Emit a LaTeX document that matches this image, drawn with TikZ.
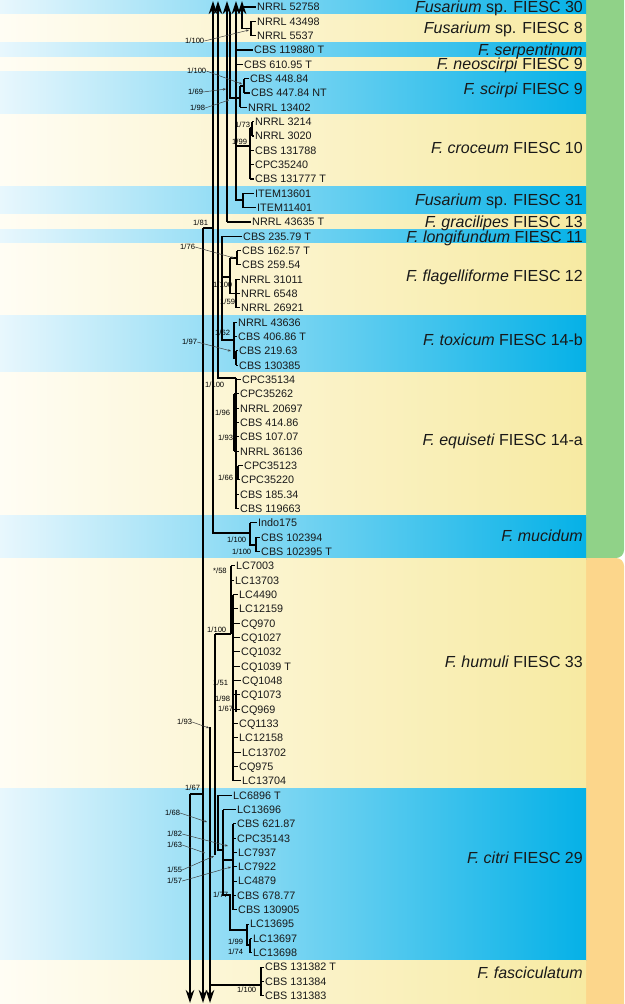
\documentclass[tikz,border=0pt]{standalone}
\usepackage{fontspec}
\setmainfont{Liberation Sans}
\usetikzlibrary{arrows.meta}
\definecolor{bandblue}{HTML}{05B1E7}
\definecolor{bandblueL}{HTML}{E8F7FD}
\definecolor{bandyel}{HTML}{F7EAA2}
\definecolor{bandyelL}{HTML}{FFFDF4}
\definecolor{stripgreen}{HTML}{90D288}
\definecolor{striporange}{HTML}{FCD68B}
\tikzset{
 tax/.style={anchor=west, inner sep=0pt, text height=7.7pt, text depth=0pt, font=\fontsize{10.8}{12}\selectfont, text=black!90},
 clade/.style={anchor=base east, inner sep=0pt, font=\fontsize{16}{18}\selectfont, text=black!90},
 supval/.style={anchor=west, inner sep=0pt, text height=5.4pt, text depth=0pt, font=\fontsize{7.6}{8}\selectfont},
 br/.style={line width=1.1pt},
 thk/.style={line width=2.6pt},
 lead/.style={line width=0.5pt, draw=black!75, -{Stealth[length=3pt,width=2.4pt]}},
 up/.style={br, {Stealth[length=13pt,width=8.5pt]}-},
 down/.style={br, -{Stealth[length=13pt,width=8.5pt]}},
 bandB/.style={left color=bandblueL, right color=bandblue},
 bandY/.style={left color=bandyelL, right color=bandyel},
}
\begin{document}
\begin{tikzpicture}[x=1pt,y=-1pt]
\useasboundingbox (0,0) rectangle (624,1004);
\fill[white] (0,0) rectangle (624,1004);
% right strips (left edges hidden under the bands)
\fill[stripgreen, rounded corners=8pt] (560,-12) rectangle (624,558);
\fill[striporange, rounded corners=8pt] (560,558) rectangle (624,1016);
% bands
\foreach \a/\b/\c in {0/14.5/bandB, 14.2/43.1/bandY, 42.8/57.5/bandB, 57.2/71.8/bandY,
  71.5/114.8/bandB, 114.5/186.5/bandY, 186.2/215.1/bandB, 214.8/229.5/bandY,
  229.2/243.8/bandB, 243.5/315.5/bandY, 315.2/372.8/bandB, 372.5/516.1/bandY,
  515.8/559.1/bandB, 558.8/788.4/bandY, 788.1/960.4/bandB, 960.1/1004/bandY}
  \shade[\c] (0,\a) rectangle (586,\b);
% clade labels
\node[clade] (c1) at (583,12.5) {\textit{Fusarium} sp. FIESC 30};
\node[clade] (c2) at (583,33.5) {\textit{Fusarium} sp. FIESC 8};
\node[clade] (c3) at (583,55.5) {\textit{F. serpentinum}};
\node[clade] (c4) at (583,69.5) {\textit{F. neoscirpi} FIESC 9};
\node[clade] (c5) at (583,94.5) {\textit{F. scirpi} FIESC 9};
\node[clade] (c6) at (583,153.5) {\textit{F. croceum} FIESC 10};
\node[clade] (c7) at (583,205.5) {\textit{Fusarium} sp. FIESC 31};
\node[clade] (c8) at (583,227.5) {\textit{F. gracilipes} FIESC 13};
\node[clade] (c9) at (583,242.5) {\textit{F. longifundum} FIESC 11};
\node[clade] (c10) at (583,281.5) {\textit{F. flagelliforme} FIESC 12};
\node[clade] (c11) at (583,345.5) {\textit{F. toxicum} FIESC 14-b};
\node[clade] (c12) at (583,445.5) {\textit{F. equiseti} FIESC 14-a};
\node[clade] (c13) at (583,541.5) {\textit{F. mucidum}};
\node[clade] (c14) at (583,667.5) {\textit{F. humuli} FIESC 33};
\node[clade] (c15) at (583,863.5) {\textit{F. citri} FIESC 29};
\node[clade] (c16) at (583,978.5) {\textit{F. fasciculatum}};
% taxa and tip branches
\foreach \i/\x/\s/\t in {1/257/242/NRRL 52758, 2/257/251/NRRL 43498, 3/257/251/NRRL 5537,
 4/254/236/CBS 119880 T, 5/244/236/CBS 610.95 T, 6/250/244/CBS 448.84, 7/251/244/CBS 447.84 NT,
 8/248/240/NRRL 13402, 9/255/252/NRRL 3214, 10/255/252/NRRL 3020, 11/255/250/CBS 131788,
 12/255/250/CPC35240, 13/255/250/CBS 131777 T, 14/255/243/ITEM13601, 15/257/243/ITEM11401,
 16/252/227/NRRL 43635 T, 17/243/222/CBS 235.79 T, 18/242/237/CBS 162.57 T, 19/242/237/CBS 259.54,
 20/241/236/NRRL 31011, 21/241/236/NRRL 6548, 22/241/236/NRRL 26921, 23/238/234/NRRL 43636,
 24/238/234/CBS 406.86 T, 25/239/236/CBS 219.63, 26/239/236/CBS 130385, 27/242/236/CPC35134,
 28/240/234/CPC35262, 29/240/234/NRRL 20697, 30/240/234/CBS 414.86, 31/240/234/CBS 107.07,
 32/240/234/NRRL 36136, 33/244/238/CPC35123, 34/241/238/CPC35220, 35/240/236/CBS 185.34,
 36/240/236/CBS 119663, 37/258/250/Indo175, 38/261/256/CBS 102394, 39/261/256/CBS 102395 T,
 40/236/231/LC7003, 41/235/231/LC13703, 42/239/233/LC4490, 43/239/233/LC12159, 44/241/233/CQ970,
 45/241/233/CQ1027, 46/241/233/CQ1032, 47/241/233/CQ1039 T, 48/242/233/CQ1048, 49/241/233/CQ1073,
 50/241/233/CQ969, 51/239/233/CQ1133, 52/239/233/LC12158, 53/242/233/LC13702, 54/239/233/CQ975,
 55/242/233/LC13704, 56/233/218/LC6896 T, 57/237/223/LC13696, 58/237/233/CBS 621.87,
 59/237/233/CPC35143, 60/238/233/LC7937, 61/238/233/LC7922, 62/238/233/LC4879,
 63/237/233/CBS 678.77, 64/238/233/CBS 130905, 65/250/247/LC13695, 66/253/250/LC13697,
 67/253/250/LC13698, 68/265/261/CBS 131382 T, 69/265/261/CBS 131384, 70/265/261/CBS 131383}
{
 \node[tax] (t\i) at (\x,{7+(\i-1)*14.33}) {\t};
 \draw[br] (\s,0 |- t\i.west) -- ([xshift=-1.2pt]t\i.west);
}
% long lines with arrows at the top
\draw[up] (213,1) -- (213,533) -- (250,533);
\draw[up] (218,1) -- (218,378) -- (236,378);
\draw[up] (227,1) -- (227,222);
\draw[up] (236,1) -- (236,200) -- (243,200);
\draw[up] (242,1) -- (242,28.5) -- (251,28.5);
\draw[br] (230,12) -- (230,98) -- (240,98);
% long lines with arrows at the bottom
\draw[down] (203,228) -- (203,1003);
\draw[br] (203,228) -- (213,228);
\draw[down] (190,794) -- (190,1003);
\draw[br] (190,794) -- (203,794);
\draw[down] (210,727) -- (210,1003);
% FIESC 8 and scirpi
\draw[br] (251,21.3) -- (251,35.7);
\draw[br] (240,86) -- (244,86);
\draw[br] (244,78.7) -- (244,93);
\draw[br] (240,86) -- (240,107.3);
% croceum and FIESC 31
\draw[br] (236,146) -- (250,146);
\draw[br] (250,128) -- (250,179);
\draw[thk] (252,121.6) -- (252,136);
\draw[br] (250,128) -- (252,128);
\draw[thk] (236,146) -- (236,186);
\draw[br] (243,193.3) -- (243,207.6);
% flagelliforme
\draw[br] (222,236.3) -- (222,340) -- (234,340);
\draw[br] (222,277) -- (230,277);
\draw[br] (230,258) -- (230,293.6) -- (236,293.6);
\draw[br] (230,258) -- (237,258);
\draw[br] (237,250.6) -- (237,265);
\draw[br] (236,279.3) -- (236,308);
% toxicum
\draw[br] (234,322.3) -- (234,358) -- (236,358);
\draw[br] (236,351) -- (236,365.3);
% equiseti
\draw[br] (236,378) -- (236,508.6);
\draw[thk] (234,394) -- (234,451.3);
\draw[thk] (238,465.6) -- (238,480);
\draw[br] (236,472) -- (238,472);
% mucidum
\draw[br] (250,523) -- (250,545) -- (256,545);
\draw[br] (256,537.3) -- (256,551.6);
% humuli
\draw[br] (231,566) -- (231,634);
\draw[br] (215,634) -- (231,634);
\draw[br] (215,634) -- (215,855);
\draw[thk] (233,594.6) -- (233,781);
\draw[br] (231,600) -- (233,600);
\draw[thk] (236,690) -- (236,712);
% citri
\draw[br] (218,795.3) -- (218,850) -- (223,850);
\draw[br] (223,809.6) -- (223,895) -- (230,895) -- (230,930) -- (247,930);
\draw[br] (223,860) -- (233,860);
\draw[br] (233,824) -- (233,910);
\draw[thk] (233,848) -- (233,866);
\draw[br] (247,924.3) -- (247,945) -- (250,945);
\draw[br] (250,938.6) -- (250,953);
% fasciculatum
\draw[br] (210,985) -- (261,985);
\draw[br] (261,967.3) -- (261,996);
% support values
\node[supval] (s1) at (185,41) {1/100}; \draw[lead] (s1.east) -- (249,30);
\node[supval] (s2) at (187,71) {1/100}; \draw[lead] (s2.east) -- (242,84);
\node[supval] (s3) at (188,92) {1/69}; \draw[lead] (s3.east) -- (226,89);
\node[supval] (s4) at (190,108) {1/98}; \draw[lead] (s4.east) -- (229,100);
\node[supval] (s5) at (235,125) {1/73};
\node[supval] (s6) at (232,142) {1/99};
\node[supval] (s7) at (193,223) {1/81};
\node[supval] (s8) at (180,247) {1/76}; \draw[lead] (s8.east) -- (234,258);
\node[supval] (s9) at (213,285) {1/100};
\node[supval] (s10) at (220,302) {1/59};
\node[supval] (s11) at (215,333) {1/62};
\node[supval] (s12) at (182,342) {1/97}; \draw[lead] (s12.east) -- (231,351);
\node[supval] (s13) at (205,385) {1/100};
\node[supval] (s14) at (215,413) {1/96};
\node[supval] (s15) at (218,438) {1/93};
\node[supval] (s16) at (218,478) {1/66};
\node[supval] (s17) at (227,540) {1/100};
\node[supval] (s18) at (232,552) {1/100};
\node[supval] (s19) at (213,571) {*/58};
\node[supval] (s20) at (207,630) {1/100};
\node[supval] (s21) at (213,683) {1/51};
\node[supval] (s22) at (215,699) {1/98};
\node[supval] (s23) at (218,709) {1/67};
\node[supval] (s24) at (177,722) {1/93}; \draw[lead] (s24.east) -- (209,728);
\node[supval] (s25) at (185,788) {1/67};
\node[supval] (s26) at (165,813) {1/68}; \draw[lead] (s26.east) -- (207,822);
\node[supval] (s27) at (167,834) {1/82}; \draw[lead] (s27.east) -- (228,846);
\node[supval] (s28) at (167,845) {1/63}; \draw[lead] (s28.east) -- (205,853);
\node[supval] (s29) at (167,870) {1/55}; \draw[lead] (s29.east) -- (214,856);
\node[supval] (s30) at (167,881) {1/57}; \draw[lead] (s30.east) -- (231,867);
\node[supval] (s31) at (213,895) {1/77};
\node[supval] (s32) at (228,942) {1/99};
\node[supval] (s33) at (228,952) {1/74};
\node[supval] (s34) at (237,990) {1/100};
\end{tikzpicture}
\end{document}
